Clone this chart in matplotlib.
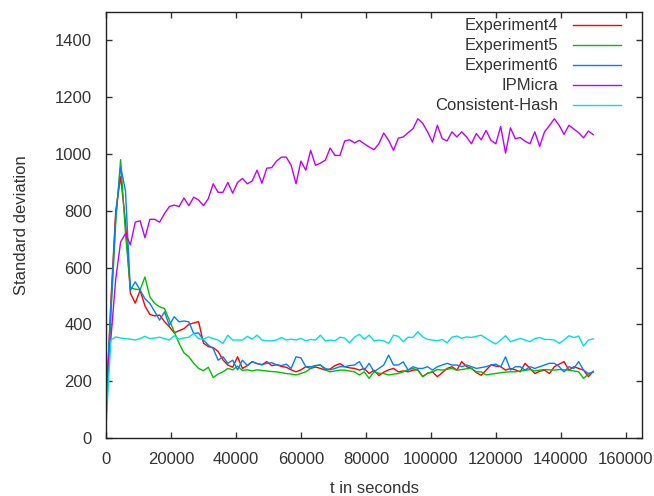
import numpy as np
import matplotlib.pyplot as plt

plt.rcParams['font.family'] = ['Liberation Sans', 'DejaVu Sans']
plt.rcParams['font.size'] = 12

# sampling times (s), one point every 1500 s
t = np.arange(0, 150001, 1500)

exp4 = [100, 480, 800, 920, 760, 510, 475, 520, 465, 435,
        430, 433, 410, 392, 370, 378, 385, 400, 405, 410,
        334, 322, 318, 305, 275, 257, 249, 286, 245, 255,
        269, 262, 258, 269, 255, 258, 252, 249, 240, 233,
        240, 251, 245, 250, 245, 239, 243, 255, 262, 251,
        247, 245, 239, 245, 227, 239, 220, 232, 240, 245,
        233, 236, 233, 239, 240, 216, 228, 233, 216, 230,
        245, 251, 239, 269, 251, 245, 230, 221, 239, 257,
        253, 251, 239, 245, 240, 233, 263, 245, 227, 235,
        239, 227, 251, 260, 269, 239, 251, 245, 239, 216,
        235]

exp5 = [60, 430, 760, 980, 720, 530, 524, 522, 567, 497,
        474, 462, 456, 415, 374, 333, 300, 286, 263, 245,
        237, 249, 213, 225, 233, 245, 240, 253, 238, 240,
        236, 240, 238, 236, 234, 233, 230, 227, 225, 222,
        227, 233, 245, 255, 257, 240, 233, 236, 239, 239,
        236, 233, 222, 233, 210, 233, 228, 227, 222, 225,
        227, 233, 240, 245, 239, 216, 228, 233, 241, 239,
        242, 245, 239, 241, 244, 245, 233, 233, 222, 225,
        227, 230, 232, 233, 233, 236, 238, 241, 236, 239,
        241, 240, 239, 241, 240, 239, 236, 233, 210, 225,
        233]

exp6 = [110, 460, 780, 955, 870, 520, 550, 521, 490, 474,
        445, 415, 444, 397, 427, 409, 412, 409, 368, 370,
        345, 327, 315, 274, 286, 263, 274, 240, 274, 255,
        269, 262, 258, 263, 265, 258, 255, 260, 245, 286,
        282, 251, 251, 255, 257, 245, 240, 245, 251, 251,
        255, 257, 269, 239, 263, 233, 245, 257, 292, 257,
        257, 268, 239, 251, 245, 245, 251, 239, 251, 257,
        263, 257, 257, 251, 257, 251, 245, 248, 251, 257,
        260, 251, 286, 239, 251, 251, 239, 251, 245, 251,
        257, 263, 263, 251, 233, 251, 245, 269, 239, 227,
        232]

ipmicra = [190, 350, 560, 690, 720, 680, 760, 765, 705, 770,
           770, 760, 790, 815, 820, 815, 845, 818, 848, 838,
           818, 843, 895, 865, 865, 900, 862, 900, 914, 895,
           905, 943, 897, 950, 952, 975, 989, 989, 960, 895,
           975, 943, 1013, 960, 968, 978, 1021, 995, 995, 1046,
           1050, 1039, 1048, 1036, 1025, 1015, 1036, 1074, 1048, 1013,
           1056, 1060, 1075, 1089, 1124, 1108, 1078, 1042, 1101, 1054,
           1046, 1078, 1060, 1078, 1060, 1036, 1072, 1050, 1083, 1048,
           1036, 1097, 1003, 1092, 1054, 1058, 1045, 1036, 1078, 1027,
           1078, 1100, 1124, 1101, 1069, 1101, 1088, 1075, 1057, 1081,
           1068]

chash = [40, 345, 356, 352, 350, 348, 345, 350, 358, 350,
         352, 355, 350, 345, 360, 348, 352, 355, 368, 350,
         348, 356, 350, 345, 333, 362, 345, 345, 345, 358,
         348, 362, 345, 342, 342, 345, 354, 345, 348, 345,
         351, 342, 347, 345, 362, 342, 345, 342, 355, 352,
         335, 355, 365, 348, 362, 342, 345, 342, 333, 362,
         358, 339, 355, 354, 374, 356, 347, 345, 342, 347,
         335, 355, 359, 351, 356, 354, 358, 362, 351, 340,
         331, 345, 360, 339, 345, 351, 345, 339, 350, 354,
         347, 347, 345, 333, 345, 360, 354, 359, 324, 345,
         349]

series = [("Experiment4", exp4, '#ff0000'),
          ("Experiment5", exp5, '#00c000'),
          ("Experiment6", exp6, '#0080ff'),
          ("IPMicra", ipmicra, '#c000ff'),
          ("Consistent-Hash", chash, '#00e0e0')]

fig = plt.figure(figsize=(6.54, 4.96), dpi=100)
ax = fig.add_axes([106 / 654, 58 / 496, 536 / 654, 426 / 496])

for name, vals, col in series:
    ax.plot(t, vals, color=col, lw=1.0, label=name)

ax.set_xlim(0, 165000)
ax.set_ylim(0, 1500)
ax.set_xticks(np.arange(0, 160001, 20000))
ax.set_yticks(np.arange(0, 1401, 200))
ax.tick_params(direction='in', length=4.5, width=1, top=True, right=True,
               pad=10, labelsize=12, colors='#333333')
for sp in ax.spines.values():
    sp.set_linewidth(1)
    sp.set_color('#222222')

ax.set_xlabel("t in seconds", fontsize=12, color='#333333', labelpad=10)
ax.set_ylabel("Standard deviation", fontsize=12, color='#333333', labelpad=19)

leg = ax.legend(loc='upper right', bbox_to_anchor=(0.961, 0.985),
                frameon=False, markerfirst=False, borderaxespad=0, borderpad=0,
                handlelength=2.88, handletextpad=0.9, labelspacing=0.3,
                fontsize=12)
for txt in leg.get_texts():
    txt.set_color('#333333')
# right-align legend texts like gnuplot
leg._legend_box._children[-1]._children[0].align = 'right'

fig.savefig('out.png', dpi=100)
